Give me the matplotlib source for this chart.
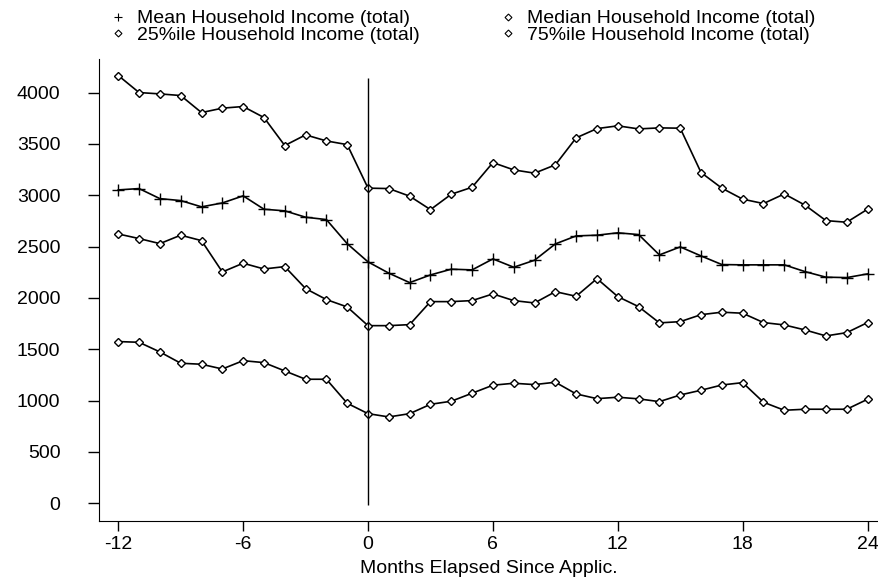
import matplotlib
matplotlib.use("Agg")
import matplotlib.pyplot as plt
from matplotlib.lines import Line2D

plt.rcParams['font.family'] = ['Liberation Sans', 'DejaVu Sans']
plt.rcParams['axes.unicode_minus'] = False

# months relative to application
months = list(range(-12, 25))

# income series
mean_inc = [3052, 3065, 2967, 2948, 2887, 2925, 2994, 2864, 2848, 2786, 2763, 2528,
            2351, 2241, 2149, 2224, 2280, 2273, 2380, 2299, 2367, 2526, 2604, 2611,
            2634, 2617, 2419, 2497, 2409, 2325, 2322, 2322, 2322, 2256, 2202, 2198, 2234]
median_inc = [2623, 2578, 2529, 2611, 2558, 2253, 2338, 2282, 2305, 2091, 1984, 1912,
              1730, 1730, 1740, 1964, 1964, 1974, 2039, 1974, 1951, 2061, 2016, 2188,
              2013, 1915, 1757, 1769, 1837, 1861, 1851, 1760, 1737, 1688, 1630, 1662, 1760]
p25_inc = [1575, 1568, 1474, 1364, 1354, 1308, 1389, 1370, 1289, 1208, 1208, 974,
           873, 841, 873, 964, 994, 1072, 1150, 1169, 1156, 1179, 1065, 1019,
           1033, 1017, 990, 1055, 1101, 1152, 1175, 984, 906, 916, 916, 916, 1013]
p75_inc = [4166, 4000, 3987, 3971, 3805, 3848, 3864, 3757, 3484, 3588, 3529, 3493,
           3069, 3065, 2991, 2860, 3010, 3078, 3318, 3247, 3215, 3296, 3559, 3649,
           3676, 3646, 3656, 3653, 3221, 3069, 2962, 2919, 3013, 2903, 2753, 2737, 2864]

labels = ["Mean Household Income (total)", "Median Household Income (total)",
          "25%ile Household Income (total)", "75%ile Household Income (total)"]

fig = plt.figure(figsize=(8.79, 5.86), dpi=100)
ax = fig.add_axes([0.113, 0.111, 0.887, 0.788])

dkw = dict(color="black", lw=1.2, marker="D", ms=4.5, mfc="white", mec="black", mew=1.0)
ax.plot(months, mean_inc, color="black", lw=1.2, marker="+", ms=8, mew=1.0)
ax.plot(months, median_inc, **dkw)
ax.plot(months, p25_inc, **dkw)
ax.plot(months, p75_inc, **dkw)

# line at the application month
ax.vlines(0, -17, 4143, color="black", lw=1.0)

ax.set_xlim(-12.91, 24.55)
ax.set_ylim(-172, 4325)
ax.set_xticks([-12, -6, 0, 6, 12, 18, 24])
ax.set_yticks(range(0, 4001, 500))
ax.tick_params(axis="y", direction="out", length=8, width=1, pad=20, labelsize=14)
ax.tick_params(axis="x", direction="out", length=7, width=1, pad=4, labelsize=14)
ax.spines["top"].set_visible(False)
ax.spines["right"].set_visible(False)
ax.set_xlabel("Months Elapsed Since Applic.", fontsize=14, labelpad=5)

# legend: two columns, markers only
h_plus = Line2D([], [], color="black", ls="none", marker="+", ms=6, mew=0.8)
h_dia = Line2D([], [], color="black", ls="none", marker="D", ms=3.5, mfc="white", mew=0.8)
fig.legend([h_plus, h_dia, h_dia, h_dia],
           [labels[0], labels[2], labels[1], labels[3]],
           ncol=2, loc="upper left", bbox_to_anchor=(0.121, 0.990),
           frameon=False, fontsize=14, handlelength=0.8, handletextpad=0.58,
           columnspacing=4.13, labelspacing=-0.05, borderpad=0.2, borderaxespad=0)

fig.savefig("out.png", dpi=100)
